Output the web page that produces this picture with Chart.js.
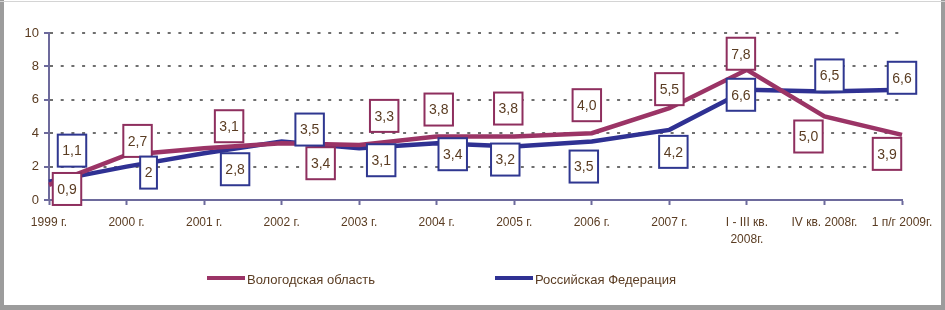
<!DOCTYPE html>
<html>
<head>
<meta charset="utf-8">
<script src="https://cdn.jsdelivr.net/npm/chart.js@4"></script>
<style>
  html, body { margin: 0; padding: 0; background: #fff; }
  #wrap { position: relative; width: 945px; height: 310px; overflow: hidden; }
  #wrap canvas { position: absolute; left: 0; top: 0; }
  .frame { position: absolute; background: #9c9c9c; }
</style>
</head>
<body>
<div id="wrap">
  <canvas id="chart" width="945" height="310"></canvas>
  <div class="frame" style="left:0;top:0;width:4px;height:310px;"></div>
  <div class="frame" style="left:941px;top:0;width:4px;height:310px;"></div>
  <div class="frame" style="left:0;top:305px;width:945px;height:5px;"></div>
  <div class="frame" style="left:0;top:1px;width:945px;height:1px;background:#d4d4d4;"></div>
</div>
<script>
// Data
const categories = ['1999 г.', '2000 г.', '2001 г.', '2002 г.', '2003 г.', '2004 г.', '2005 г.', '2006 г.', '2007 г.', ['I - III кв.', '2008г.'], 'IV кв. 2008г.', '1 п/г 2009г.'];
const vologda = [0.9, 2.7, 3.1, 3.4, 3.3, 3.8, 3.8, 4.0, 5.5, 7.8, 5.0, 3.9];
const russia = [1.1, 2, 2.8, 3.5, 3.1, 3.4, 3.2, 3.5, 4.2, 6.6, 6.5, 6.6];
const yTicks = [0, 2, 4, 6, 8, 10];

// label box offsets from the point (px)
const vologdaLabelPos = [[18, 4], [11, -14], [25, -22], [39, 20], [25, -29], [2, -27], [-6, -28], [-5, -28], [0, -19], [-6, -16], [-16, 20], [-15, 19]];
const russiaLabelPos = [[23, -31], [22, 6], [31, 16], [28, -12], [22, 12], [16, 11], [-9, 13], [-8, 25], [4, 22], [-6, 5], [5, -16], [0, -12]];

const font = "'Liberation Sans', Arial, sans-serif";
const textColor = '#5a3c22';
const axisColor = '#6d6a9c';
const maroon = '#9b3466';
const navy = '#2f3193';

const boxLabels = {
    id: 'boxLabels',
    afterDatasetsDraw(chart) {
        const ctx = chart.ctx;
        ctx.save();
        ctx.font = '14px ' + font;
        ctx.textAlign = 'center';
        ctx.textBaseline = 'middle';
        chart.data.datasets.forEach((ds, di) => {
            const meta = chart.getDatasetMeta(di);
            meta.data.forEach((pt, i) => {
                const off = ds.labelPos[i];
                const txt = ds.fmt(ds.data[i]);
                const cx = pt.x + off[0], cy = pt.y + off[1];
                const w = ctx.measureText(txt).width + 9, h = 32;
                ctx.fillStyle = '#fff';
                ctx.fillRect(cx - w / 2, cy - h / 2, w, h);
                ctx.lineWidth = 2;
                ctx.strokeStyle = ds.boxColor;
                ctx.strokeRect(cx - w / 2, cy - h / 2, w, h);
                ctx.fillStyle = textColor;
                ctx.fillText(txt, cx, cy + 1);
            });
        });
        ctx.restore();
    }
};

const bottomLegend = {
    id: 'bottomLegend',
    afterDraw(chart) {
        const ctx = chart.ctx;
        const items = [[207, maroon, 'Вологодская область'], [495, navy, 'Российская Федерация']];
        const y = 278;
        ctx.save();
        ctx.font = '13px ' + font;
        ctx.textBaseline = 'middle';
        items.forEach(([x, color, text]) => {
            ctx.fillStyle = color;
            ctx.fillRect(x, y - 2, 38, 4);
            ctx.fillStyle = textColor;
            ctx.fillText(text, x + 40, y + 2);
        });
        ctx.restore();
    }
};

new Chart(document.getElementById('chart').getContext('2d'), {
    type: 'line',
    data: {
        labels: categories,
        datasets: [
            {
                label: 'Вологодская область',
                data: vologda,
                borderColor: maroon,
                borderWidth: 4.5,
                pointRadius: 0,
                tension: 0,
                labelPos: vologdaLabelPos,
                boxColor: '#8e2f5e',
                fmt: v => v.toFixed(1).replace('.', ',')
            },
            {
                label: 'Российская Федерация',
                data: russia,
                borderColor: navy,
                borderWidth: 4.5,
                pointRadius: 0,
                tension: 0,
                labelPos: russiaLabelPos,
                boxColor: '#2f3790',
                fmt: v => String(v).replace('.', ',')
            }
        ]
    },
    options: {
        responsive: false,
        animation: false,
        layout: { padding: { left: 0, top: 33, right: 43, bottom: 0 } },
        plugins: { legend: { display: false }, tooltip: { enabled: false } },
        scales: {
            x: {
                offset: false,
                afterFit: s => { s.height = 110; },
                border: { color: axisColor, width: 2 },
                grid: { drawOnChartArea: false, drawTicks: true, tickLength: 5, tickColor: axisColor, tickWidth: 2 },
                ticks: { color: textColor, font: { family: font, size: 12, lineHeight: 1.4 }, padding: 9, maxRotation: 0, autoSkip: false }
            },
            y: {
                min: 0, max: 10,
                afterFit: s => { s.width = 49; },
                afterBuildTicks: s => { s.ticks = yTicks.map(v => ({ value: v })); },
                border: { color: axisColor, width: 2, dash: [3, 7.7] },
                grid: { color: '#6e6e6e', lineWidth: 2, tickLength: 5, tickColor: axisColor, tickWidth: 2, tickBorderDash: [] },
                ticks: { color: textColor, font: { family: font, size: 13 }, padding: 5 }
            }
        }
    },
    plugins: [boxLabels, bottomLegend]
});
</script>
</body>
</html>
